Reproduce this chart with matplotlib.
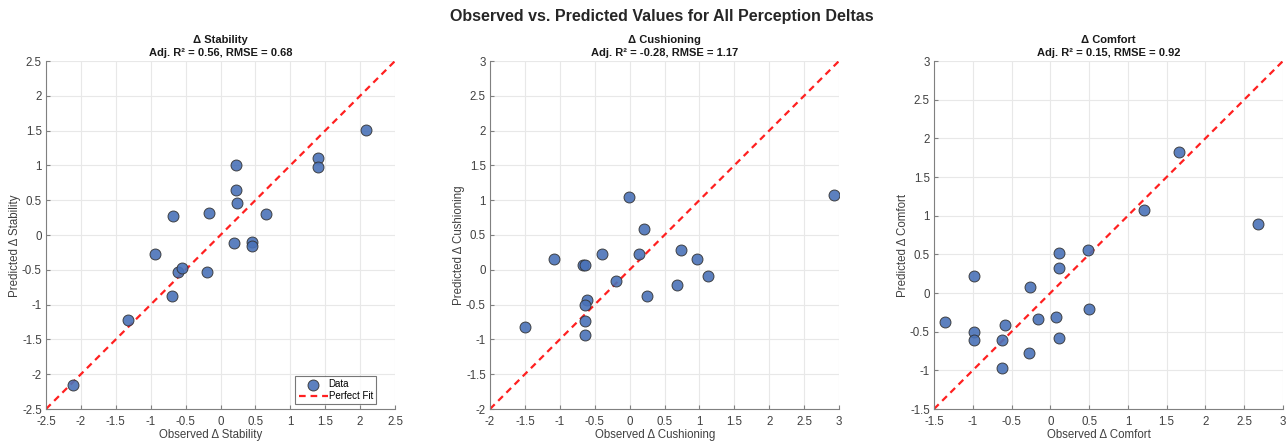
import matplotlib
matplotlib.use('Agg')
import matplotlib.pyplot as plt

plt.rcParams['font.family'] = ['Liberation Sans', 'DejaVu Sans']

# observed / predicted values per perception delta
stab_obs = [2.08, 1.39, 1.39, 0.22, 0.22, 0.24, 0.65, -0.17, -0.68, 0.20,
            0.45, 0.45, -0.94, -0.61, -0.55, -0.20, -0.70, -1.33, -2.12]
stab_pred = [1.51, 1.10, 0.97, 1.00, 0.64, 0.46, 0.30, 0.31, 0.28, -0.12,
             -0.10, -0.155, -0.27, -0.53, -0.48, -0.53, -0.87, -1.22, -2.16]

cush_obs = [2.93, -0.01, 0.20, 0.74, -0.39, 0.13, -1.09, 0.97, -0.665, -0.64,
            1.13, -0.20, 0.68, 0.25, -0.61, -0.645, -0.645, -0.645, -1.50]
cush_pred = [1.08, 1.05, 0.59, 0.29, 0.23, 0.22, 0.15, 0.15, 0.07, 0.07,
             -0.09, -0.16, -0.22, -0.37, -0.43, -0.50, -0.74, -0.94, -0.82]

comf_obs = [1.66, 1.21, 2.68, 0.48, 0.11, 0.11, -0.98, -0.26, 0.50, 0.07,
            -0.16, -1.36, -0.59, -0.99, -0.99, -0.62, 0.11, -0.28, -0.62]
comf_pred = [1.82, 1.07, 0.89, 0.56, 0.52, 0.32, 0.22, 0.08, -0.21, -0.31,
             -0.34, -0.37, -0.41, -0.51, -0.61, -0.61, -0.58, -0.78, -0.97]

names = ['Stability', 'Cushioning', 'Comfort']
adj_r2 = ['0.56', '-0.28', '0.15']
rmse = ['0.68', '1.17', '0.92']
limits = [(-2.5, 2.5), (-2, 3), (-1.5, 3)]

obs = [stab_obs, cush_obs, comf_obs]
pred = [stab_pred, cush_pred, comf_pred]

fig = plt.figure(figsize=(12.88, 4.43), dpi=100)
lefts = [46, 490, 934]
tick_col = '#404040'

for i in range(3):
    ax = fig.add_axes([lefts[i] / 1288, 34 / 443, 349 / 1288, 348 / 443])
    lo, hi = limits[i]
    ax.scatter(obs[i], pred[i], s=62, color='#4a72b8', edgecolors='#333333',
               linewidths=0.7, alpha=0.9, zorder=3, label='Data')
    ax.plot([lo, hi], [lo, hi], '--', color='#ff2020', linewidth=1.6,
            dashes=(3, 2.2), zorder=2, label='Perfect Fit')
    ax.set_xlim(lo, hi)
    ax.set_ylim(lo, hi)
    ticks = [lo + 0.5 * k for k in range(int(round((hi - lo) / 0.5)) + 1)]
    ax.set_xticks(ticks)
    ax.set_yticks(ticks)
    ax.set_xticklabels(['%g' % t for t in ticks])
    ax.set_yticklabels(['%g' % t for t in ticks])
    ax.grid(True, color='#e8e8e8', linewidth=0.8)
    ax.set_axisbelow(True)
    for s in ['top', 'right']:
        ax.spines[s].set_visible(False)
    for s in ['left', 'bottom']:
        ax.spines[s].set_color('#808080')
        ax.spines[s].set_linewidth(0.8)
    ax.tick_params(direction='in', length=3, colors='#808080', labelcolor=tick_col,
                   labelsize=8.3)
    ax.tick_params(axis='x', pad=5)
    ax.tick_params(axis='y', pad=3)
    ax.set_xlabel('Observed \u0394 ' + names[i], fontsize=8.3, color=tick_col, va='center')
    ax.set_ylabel('Predicted \u0394 ' + names[i], fontsize=8.3, color=tick_col, va='center')
    ax.xaxis.set_label_coords(0.473, -0.075)
    ax.yaxis.set_label_coords(-0.089, 0.47)
    ax.set_title('\u0394 ' + names[i] + '\nAdj. R\u00b2 = ' + adj_r2[i] + ', RMSE = ' + rmse[i],
                 fontsize=8, fontweight='bold', color='#1a1a1a', pad=3.5, linespacing=1.45)
    if i == 0:
        leg = ax.legend(loc='lower right', fontsize=7, frameon=True, fancybox=False,
                        borderpad=0.35, handlelength=3.0, handletextpad=0.1,
                        labelspacing=0.15, borderaxespad=0.3,
                        bbox_to_anchor=(0.955, 0.005))
        leg.get_frame().set_edgecolor('#555555')
        leg.get_frame().set_linewidth(0.8)

fig.suptitle('Observed vs. Predicted Values for All Perception Deltas',
             fontsize=11.5, fontweight='bold', color='#262626', x=0.514, y=0.962,
             va='center')

fig.savefig('out.png', dpi=100, facecolor='white')
